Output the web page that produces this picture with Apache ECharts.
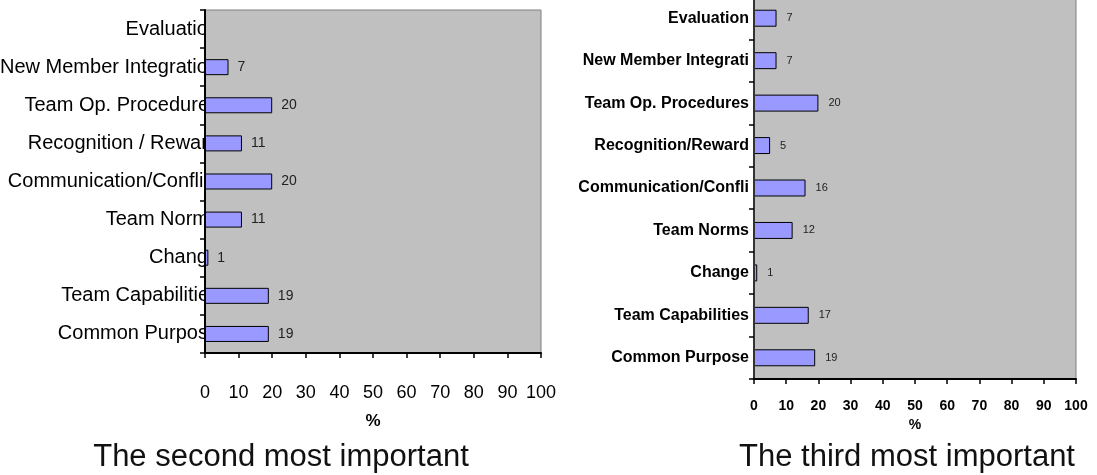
<!DOCTYPE html>
<html>
<head>
<meta charset="utf-8">
<script src="https://cdn.jsdelivr.net/npm/echarts@6/dist/echarts.min.js"></script>
<style>
html,body{margin:0;padding:0;background:#fff;}
#c{width:1097px;height:475px;}
</style>
</head>
<body>
<div id="c"></div>
<script>
// Categories listed bottom to top
const categoriesSecond = ['Common Purpose', 'Team Capabilities', 'Change', 'Team Norms', 'Communication/Conflict', 'Recognition / Reward', 'Team Op. Procedures', 'New Member Integration', 'Evaluation'];
const categoriesThird = ['Common Purpose', 'Team Capabilities', 'Change', 'Team Norms', 'Communication/Conflict', 'Recognition/Reward', 'Team Op. Procedures', 'New Member Integration', 'Evaluation'];
const secondValues = [19, 19, 1, 11, 20, 11, 20, 7, null];
const thirdValues = [19, 17, 1, 12, 16, 5, 20, 7, 7];
const xTicks = [0, 10, 20, 30, 40, 50, 60, 70, 80, 90, 100];
const titles = ['The second most important', 'The third most important'];
const axisName = '%';

const FONT = 'Liberation Sans, Arial, Helvetica, sans-serif';
const chart = echarts.init(document.getElementById('c'), null, {renderer: 'canvas'});

function xAxisCfg(gridIndex, big) {
  return {
    type: 'value', gridIndex: gridIndex, z: 3,
    min: xTicks[0], max: xTicks[xTicks.length - 1], interval: xTicks[1] - xTicks[0],
    name: axisName, nameLocation: 'middle', nameGap: big ? 60 : 39,
    nameTextStyle: {fontFamily: FONT, fontWeight: 'bold', fontSize: big ? 17 : 14, color: '#000'},
    axisLine: {show: true, lineStyle: {color: '#000', width: 2}},
    axisTick: {show: true, inside: false, length: 5, lineStyle: {color: '#000', width: 1.5}},
    splitLine: {show: false},
    axisLabel: {fontFamily: FONT, fontSize: big ? 18 : 14, fontWeight: big ? 'normal' : 'bold', color: '#000', margin: big ? 31 : 20}
  };
}

chart.setOption({
  animation: false,
  backgroundColor: '#fff',
  title: [
    {text: titles[0], left: 276, top: 437, textAlign: 'center', textStyle: {fontFamily: FONT, fontSize: 31, fontWeight: 'normal', color: '#111'}},
    {text: titles[1], left: 902, top: 437, textAlign: 'center', textStyle: {fontFamily: FONT, fontSize: 31, fontWeight: 'normal', color: '#111'}}
  ],
  grid: [
    {left: 205, top: 10, width: 336, height: 343, show: true, z: 0, outerBoundsMode: 'none', containLabel: false, backgroundColor: '#c0c0c0', borderColor: '#808080', borderWidth: 1},
    {left: 754, top: -3, width: 322, height: 382, show: true, z: 0, outerBoundsMode: 'none', containLabel: false, backgroundColor: '#c0c0c0', borderColor: '#808080', borderWidth: 1}
  ],
  xAxis: [xAxisCfg(0, true), xAxisCfg(1, false)],
  yAxis: [
    // left chart: axis line and ticks drawn above the plot
    {
      type: 'category', gridIndex: 0, data: categoriesSecond, position: 'left', z: 3,
      axisLine: {show: true, lineStyle: {color: '#000', width: 2}},
      axisTick: {show: true, inside: false, alignWithLabel: false, length: 5, lineStyle: {color: '#000', width: 1.5}},
      splitLine: {show: false},
      axisLabel: {show: false}
    },
    // left chart: category labels drawn beneath the plot area so that they are cut off by it
    {
      type: 'category', gridIndex: 0, data: categoriesSecond, position: 'left', z: -1,
      axisLine: {show: false}, axisTick: {show: false}, splitLine: {show: false},
      axisLabel: {fontFamily: FONT, fontSize: 20, color: '#000', margin: -14}
    },
    // right chart
    {
      type: 'category', gridIndex: 1, data: categoriesThird, position: 'left', z: 3,
      axisLine: {show: true, lineStyle: {color: '#333', width: 2}},
      axisTick: {show: true, inside: false, alignWithLabel: false, length: 5, lineStyle: {color: '#000', width: 1.5}},
      splitLine: {show: false},
      axisLabel: {fontFamily: FONT, fontSize: 16, fontWeight: 'bold', color: '#000', margin: 5, width: 178, overflow: 'truncate', ellipsis: ''}
    }
  ],
  series: [
    {
      type: 'bar', xAxisIndex: 0, yAxisIndex: 0, data: secondValues, z: 2,
      barWidth: '42%',
      itemStyle: {color: '#9999ff', borderColor: '#000', borderWidth: 1},
      label: {show: true, position: 'right', distance: 9, fontFamily: FONT, fontSize: 14, color: '#222'}
    },
    {
      type: 'bar', xAxisIndex: 1, yAxisIndex: 2, data: thirdValues, z: 2,
      barWidth: '40%',
      itemStyle: {color: '#9999ff', borderColor: '#000', borderWidth: 1},
      label: {show: true, position: 'right', distance: 10, fontFamily: FONT, fontSize: 11, color: '#222'}
    }
  ]
});
</script>
</body>
</html>
